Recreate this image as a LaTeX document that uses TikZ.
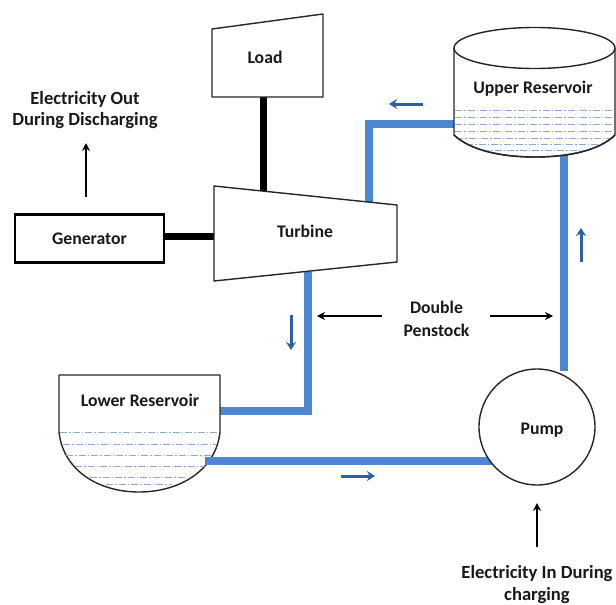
\documentclass[tikz,border=0pt]{standalone}
\usepackage{fontspec}
\setmainfont{Carlito}
\usetikzlibrary{arrows.meta}
\definecolor{pipeblue}{HTML}{4F86D2}
\definecolor{flowblue}{HTML}{2F5F9E}
\definecolor{waterblue}{HTML}{8FABD3}
\tikzset{
  lbl/.style={font=\fontsize{17.7}{21.5}\selectfont\bfseries,text=black!90,align=center,inner sep=0pt},
  biglbl/.style={lbl,font=\fontsize{18.6}{21}\selectfont\bfseries},
  outline/.style={draw=black!85,line width=1.4pt,fill=white,line join=round},
  pipe/.style={draw=pipeblue,line width=8.5pt,line join=miter},
  shaft/.style={draw=black,line width=7pt},
  signal/.style={draw=black,line width=1.4pt,-{Stealth[length=8pt,width=8pt]}},
  flow/.style={draw=flowblue,line width=3pt,-{Stealth[length=8pt,width=10pt]}},
  water/.style={draw=waterblue,line width=0.9pt,dash pattern=on 7pt off 2pt on 1.5pt off 2pt}
}
\begin{document}
\begin{tikzpicture}[x=1pt,y=-1pt]
\useasboundingbox (0,0) rectangle (616,605);
% anchors
\coordinate (upperL) at (456,124);
\coordinate (pipeTurnU) at (369,124);
\coordinate (turbR) at (369,204);
\coordinate (upperB) at (564,155);
\coordinate (pumpT) at (564,371);
\coordinate (turbB) at (308,272);
\coordinate (pipeTurnL) at (308,411);
\coordinate (lowerR) at (218,411);
\coordinate (lowerB) at (205,461);
\coordinate (pumpL) at (492,461);
\coordinate (loadB) at (263,95);
\coordinate (turbT) at (263,192);
\coordinate (genR) at (164,236);
\coordinate (turbL) at (215,236);
% pipes and shafts
\draw[pipe] (upperL) -- (pipeTurnU) -- (turbR);
\draw[pipe] (upperB) -- (pumpT);
\draw[pipe] (turbB) -- (pipeTurnL) -- (lowerR);
\draw[shaft] (loadB) -- (turbT);
\draw[shaft] (genR) -- (turbL);
% load
\draw[outline] (212,29) -- (323,14) -- (323,97) -- (212,97) -- cycle;
\node[lbl] (load) at (265,57) {Load};
% turbine
\draw[outline] (214,186) -- (397,205) -- (397,262) -- (214,281) -- cycle;
\node[lbl] (turbine) at (305,231) {Turbine};
% generator
\node[draw=black,line width=2.2pt,fill=white,minimum width=149pt,minimum height=48pt,lbl] (generator) at (89.5,238.5) {Generator};
% upper reservoir
\draw[outline] (454,48) -- (454,135) .. controls (470,150) and (500,157) .. (535,157) .. controls (570,157) and (600,150) .. (615,135) -- (615,48);
\foreach \yy/\xa/\xb in {110/455/614,117/455/614,124/455/614,131/455/614,138/456/613,144/466/603,150/482/588}
  \draw[water] (\xa,\yy) -- (\xb,\yy);
\draw[draw=black!85,line width=1.4pt] (454,135) .. controls (470,150) and (500,157) .. (535,157) .. controls (570,157) and (600,150) .. (615,135);
\draw[outline] (534.5,48) ellipse [x radius=80.5pt,y radius=20.5pt];
\node[lbl] (upper) at (533,89) {Upper Reservoir};
% lower reservoir
\draw[outline] (59,375) -- (220,375) -- (220,432) .. controls (216,470) and (180,492) .. (139,492) .. controls (98,492) and (63,470) .. (59,432) -- cycle;
\foreach \yy/\xa/\xb in {432/60/219,444/63/216,455/66/213,466/75/205,477/90/186,484/106/172}
  \draw[water] (\xa,\yy) -- (\xb,\yy);
\node[lbl] (lower) at (140,400) {Lower Reservoir};
% lower pipe over the reservoir edge
\draw[pipe] (lowerB) -- (pumpL);
% pump
\node[circle,draw=black!85,line width=1.4pt,fill=white,minimum size=116pt,lbl] (pump) at (537,427) {};
\node[lbl] (pumplabel) at (542,430) {Pump};
% labels
\node[biglbl] (eout) at (85,110) {Electricity Out\\During Discharging};
\node[lbl,font=\fontsize{17.7}{23}\selectfont\bfseries] (penstock) at (436.5,319) {Double\\Penstock};
\node[biglbl,font=\fontsize{18.6}{22}\selectfont\bfseries] (ein) at (537,584.5) {Electricity In During\\charging};
% arrows
\coordinate (a1s) at (86,197); \coordinate (a1e) at (86,143);
\coordinate (a2s) at (382,316); \coordinate (a2e) at (317,316);
\coordinate (a3s) at (490,316); \coordinate (a3e) at (553,316);
\coordinate (a4s) at (537,547); \coordinate (a4e) at (537,503);
\draw[signal] (a1s) -- (a1e);
\draw[signal] (a2s) -- (a2e);
\draw[signal] (a3s) -- (a3e);
\draw[signal] (a4s) -- (a4e);
\coordinate (f1s) at (423,104); \coordinate (f1e) at (389,104);
\coordinate (f2s) at (581,262); \coordinate (f2e) at (581,228);
\coordinate (f3s) at (291,315); \coordinate (f3e) at (291,350);
\coordinate (f4s) at (341,476); \coordinate (f4e) at (375,476);
\draw[flow] (f1s) -- (f1e);
\draw[flow] (f2s) -- (f2e);
\draw[flow] (f3s) -- (f3e);
\draw[flow] (f4s) -- (f4e);
\end{tikzpicture}
\end{document}
